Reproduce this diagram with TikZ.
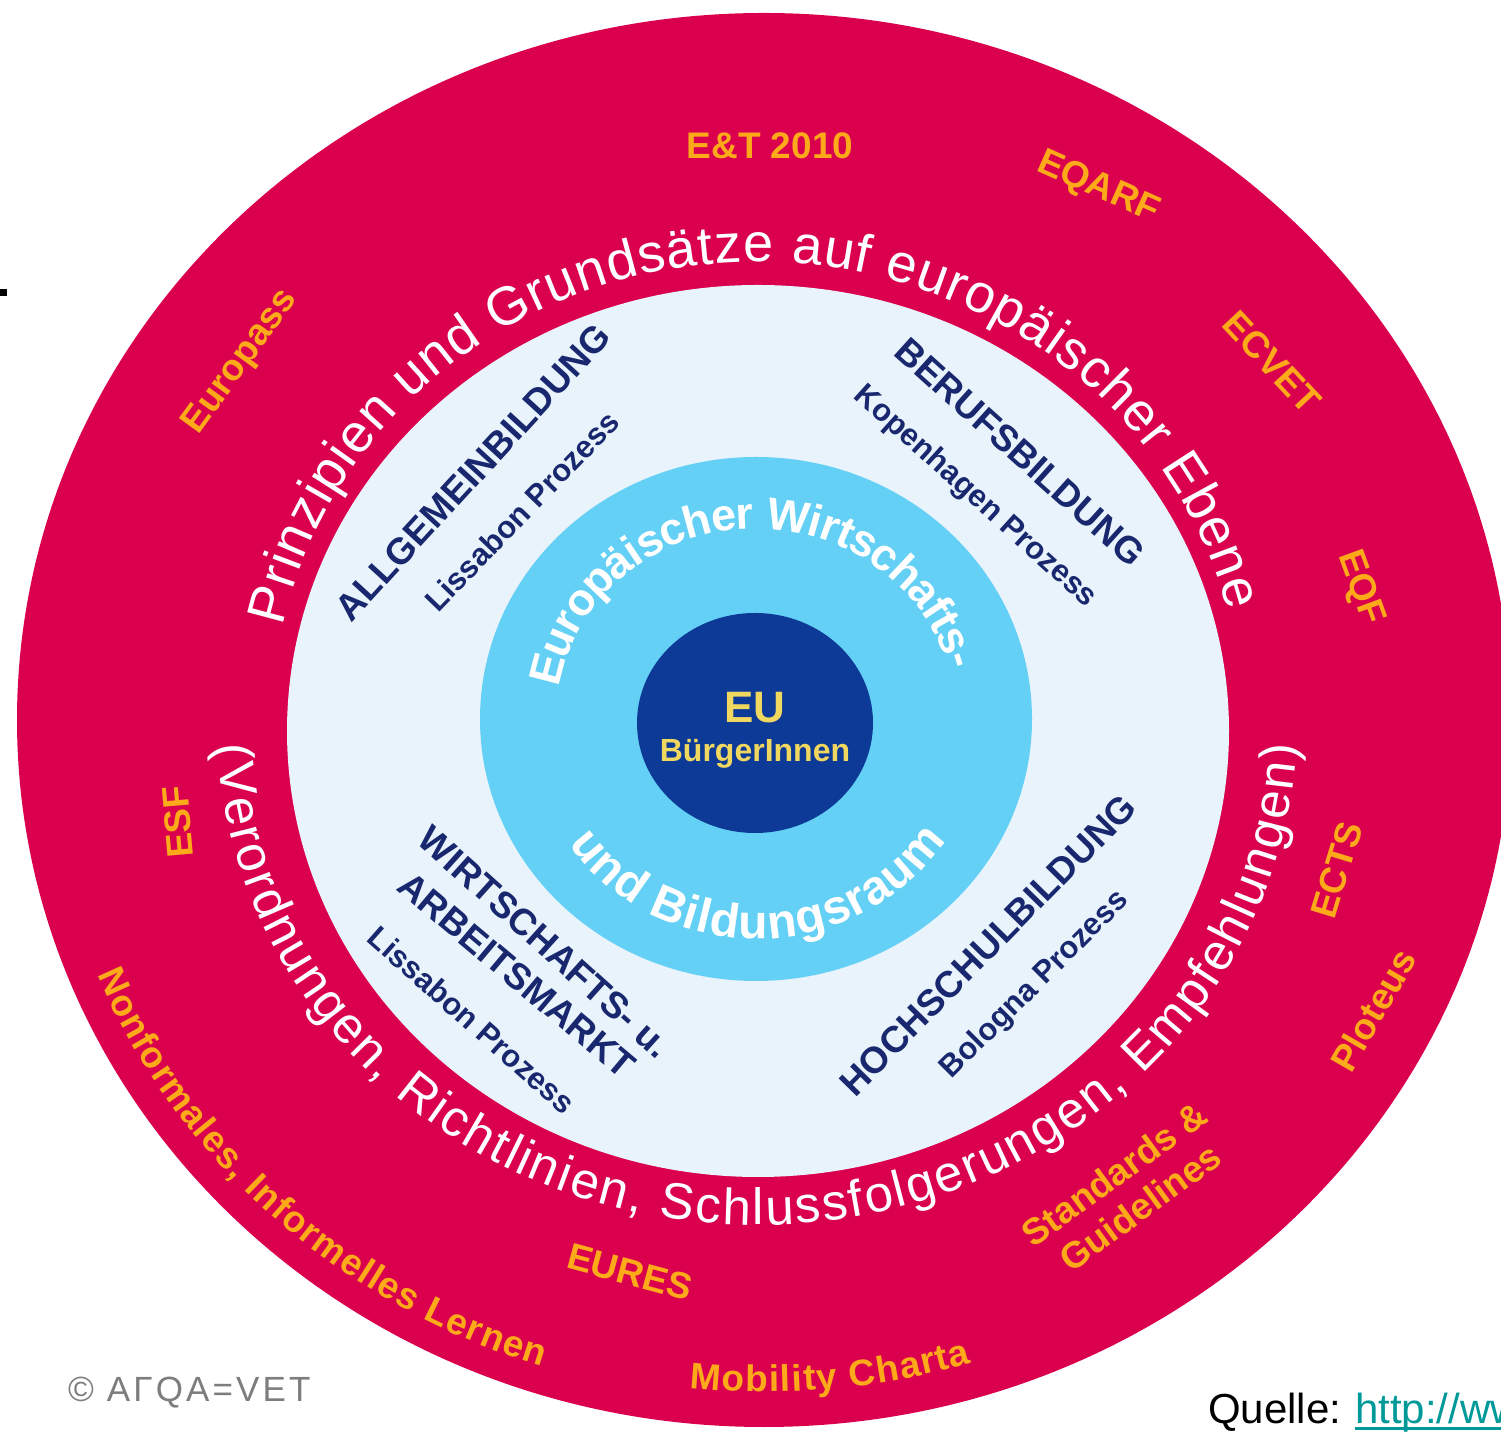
\documentclass[tikz,border=0pt]{standalone}
\usepackage{fontspec}
\setmainfont{Liberation Sans}
\usetikzlibrary{decorations.text}
\definecolor{ringred}{RGB}{218,0,77}
\definecolor{palebg}{RGB}{232,243,251}
\definecolor{cyanbg}{RGB}{100,208,245}
\definecolor{darkbg}{RGB}{12,58,150}
\definecolor{navytxt}{RGB}{25,40,110}
\definecolor{orangetxt}{RGB}{252,170,25}
\definecolor{euyellow}{RGB}{240,215,95}
\definecolor{linkteal}{RGB}{0,153,153}
\definecolor{logogray}{RGB}{125,125,125}
\newcommand{\myfs}[1]{\fontsize{#1}{#1}\selectfont}
\begin{document}
\begin{tikzpicture}[x=1pt,y=1pt,
  orangelabel/.style={text=orangetxt, font=\myfs{37}\bfseries, inner sep=0pt},
  bluelabel/.style={text=navytxt, font=\myfs{37}\bfseries, inner sep=0pt},
  bluesub/.style={text=navytxt, font=\myfs{31}\bfseries, inner sep=0pt},
  arctext/.style={decorate, decoration={text along path, text align={fit to path}, text color=#1}},
]
\useasboundingbox (0,0) rectangle (1501,1440);
\clip (0,0) rectangle (1501,1440);
\fill[white] (0,0) rectangle (1501,1440);

% rings
\fill[ringred] (764,720) ellipse [x radius=747, y radius=707];
\fill[palebg] (758,709) ellipse [x radius=471, y radius=446];
\fill[cyanbg] (756,721) ellipse [x radius=276, y radius=262];
\fill[darkbg] (755,717) ellipse [x radius=118, y radius=110];

% slide bullet mark
\fill[black] (0,1144) rectangle (7,1151);

% white arc texts in red ring
\path[arctext=white, decoration={text={|\myfs{54}|Prinzipien und Grundsätze auf europäischer Ebene}}]
  (757,718) ++(168:485 and 460) arc[start angle=168, end angle=14, x radius=485, y radius=460];
\path[arctext=white, decoration={text={|\myfs{51}|(Verordnungen, Richtlinien, Schlussfolgerungen, Empfehlungen)}}]
  (757,718) ++(182.6:540 and 503) arc[start angle=182.6, end angle=357.4, x radius=540, y radius=503];

% white arc texts in cyan ring
\path[arctext=white, decoration={raise=-20pt, text={|\myfs{45}\bfseries|Europäischer Wirtschafts-}}]
  (756,721) ++(170:220 and 210) arc[start angle=170, end angle=15, x radius=220, y radius=210];
\path[arctext=white, decoration={text={|\myfs{48}\bfseries|und Bildungsraum}}]
  (756,721) ++(214.7:228 and 220) arc[start angle=214.7, end angle=326.5, x radius=228, y radius=220];

% centre
\node[text=euyellow, font=\myfs{44}\bfseries, inner sep=0pt, anchor=base] (eu) at (755,717) {EU};
\node[text=euyellow, font=\myfs{32}\bfseries, inner sep=0pt, anchor=base] (buerger) at (755,678) {BürgerInnen};

% orange labels in red ring
\node[orangelabel] (et) at (770,1294) {E\&T 2010};
\node[orangelabel, rotate=-24] (eqarf) at (1098,1252) {EQARF};
\node[orangelabel, rotate=-47] (ecvet) at (1272,1078) {ECVET};
\node[orangelabel, rotate=-70] (eqf) at (1360,852) {EQF};
\node[orangelabel, rotate=73] (ects) at (1337,570) {ECTS};
\node[orangelabel, rotate=60] (ploteus) at (1373,430) {Ploteus};
\node[orangelabel, rotate=36] (standards) at (1114,266) {Standards \&};
\node[orangelabel, rotate=36] (guidelines) at (1140,233) {Guidelines};
\node[orangelabel, rotate=-15] (eures) at (630,168) {EURES};
\node[orangelabel, rotate=95] (esf) at (178,618) {ESF};
\node[orangelabel, rotate=54] (europass) at (241,1078) {Europass};
\path[arctext=orangetxt, decoration={text={|\myfs{37}\bfseries|Nonformales, Informelles Lernen}}]
  (764,720) ++(202:719 and 680) arc[start angle=202, end angle=252, x radius=719, y radius=680];
\path[arctext=orangetxt, decoration={text={|\myfs{37}\bfseries|Mobility Charta}}]
  (764,720) ++(264:710 and 672) arc[start angle=264, end angle=287, x radius=710, y radius=672];

% blue labels in pale ring
\node[bluelabel, rotate=47.5] (allg) at (473,968) {ALLGEMEINBILDUNG};
\node[bluesub, rotate=46] (lissa) at (522,929) {Lissabon Prozess};
\node[bluelabel, rotate=-42] (beruf) at (1020,988) {BERUFSBILDUNG};
\node[bluesub, rotate=-42] (kopen) at (975,943) {Kopenhagen Prozess};
\node[bluelabel, rotate=45.5] (hoch) at (988,495) {HOCHSCHULBILDUNG};
\node[bluesub, rotate=45] (bolo) at (1035,455) {Bologna Prozess};
\node[bluelabel, rotate=-42] (wirt) at (545,498) {WIRTSCHAFTS- u.};
\node[bluelabel, rotate=-40] (arbeit) at (517,465) {ARBEITSMARKT};
\node[bluesub, rotate=-41.5] (lissb) at (472,420) {Lissabon Prozess};

% logo and source
\node[text=logogray, font=\myfs{35}\addfontfeature{LetterSpace=9}, inner sep=0pt, anchor=base west] (logo) at (68,39) {© AΓQA=VET};
\node[font=\myfs{42}, inner sep=0pt, anchor=base west] (quelle) at (1208,17) {Quelle:};
\node[font=\myfs{42}, text=linkteal, inner sep=0pt, anchor=base west] (link) at (1355,17) {http://ww};
\draw[linkteal, line width=3pt] ([yshift=-5pt]link.base west) -- ([yshift=-5pt]link.base east);
\end{tikzpicture}
\end{document}
